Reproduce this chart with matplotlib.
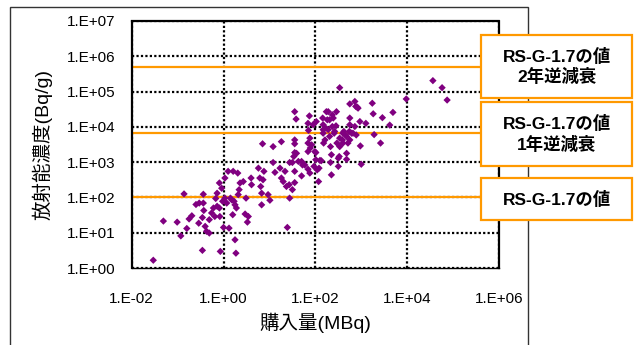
import matplotlib
matplotlib.use("Agg")
import matplotlib.pyplot as plt
from matplotlib.patches import Rectangle
from matplotlib.ticker import FixedLocator, NullLocator
import numpy as np

# log10 of purchased activity (MBq) and log10 of concentration (Bq/g)
log_mbq = [
    -1.53, -1.31, -1.01, -0.93, -0.86, -0.80, -0.75, -0.69, -0.54, -0.53,
    -0.44, -0.44, -0.43, -0.46, -0.40, -0.37, -0.31, -0.46, -0.31, -0.26,
    -0.22, -0.19, -0.17, -0.14, -0.09, -0.04, -0.02, -0.09, -0.14, -0.08,
    -0.07, 0.00, 0.03, 0.10, 0.03, 0.07, 0.12, 0.15, 0.23, 0.25,
    0.28, 0.20, 0.25, 0.27, 0.21, 0.31, 0.34, 0.36, 0.43, 0.49,
    0.47, 0.54, 0.52, 0.60, 0.61, 0.76, 0.79, 0.81, 0.83, 0.88,
    0.85, 0.86, 0.83, 0.97, 1.01, 1.08, 1.08, 1.12, 1.23, 1.26,
    1.26, 1.30, 1.34, 1.37, 1.39, 1.43, 1.44, 1.44, 1.50, 1.50,
    1.55, 1.53, 1.55, 1.55, 1.55, 1.58, 1.55, 1.55, 1.59, 1.63,
    1.70, 1.72, 1.77, 1.70, 1.84, 1.88, 1.84, 1.85, 1.84, 1.87,
    1.84, 1.88, 1.92, 1.95, 2.01, 2.01, 2.02, 2.04, 2.07, 2.08,
    2.10, 2.16, 2.17, 2.17, 2.17, 2.18, 2.21, 2.23, 2.28, 2.26,
    2.28, 2.31, 2.31, 2.33, 2.33, 2.35, 2.35, 2.37, 2.37, 2.42,
    2.41, 2.45, 2.46, 2.47, 2.50, 2.50, 2.52, 2.53, 2.53, 2.53,
    2.59, 2.60, 2.60, 2.62, 2.66, 2.68, 2.68, 2.68, 2.71, 2.74,
    2.75, 2.75, 2.75, 2.75, 2.79, 2.82, 2.86, 2.86, 2.88, 2.89,
    2.93, 2.97, 2.98, 3.00, 3.10, 3.24, 3.26, 3.28, 3.42, 3.46,
    3.62, 3.69, 3.98, 4.56, 4.76, 4.87,
    0.18, 0.32, 1.89, 1.97, 1.99, 2.13, 2.24, 2.39, -0.60, 2.91,
]
log_bqg = [
    0.22, 1.33, 1.30, 0.91, 2.10, 1.12, 1.39, 1.48, 1.27, 1.84,
    2.09, 1.84, 1.63, 1.43, 1.18, 1.04, 0.99, 0.50, 1.37, 1.56,
    1.70, 1.46, 1.97, 2.12, 2.41, 2.26, 1.89, 1.70, 1.75, 1.46,
    0.47, 1.15, 2.55, 2.74, 1.98, 1.84, 1.13, 1.98, 1.89, 1.79,
    1.70, 1.51, 0.80, 0.42, 2.74, 2.69, 2.22, 2.41, 2.45, 1.98,
    1.53, 1.46, 1.30, 2.55, 2.36, 2.83, 2.55, 2.31, 1.79, 2.74,
    3.52, 2.50, 2.12, 2.08, 1.92, 3.44, 2.99, 2.71, 2.83, 3.58,
    2.55, 2.45, 2.74, 2.31, 1.15, 2.36, 1.98, 2.99, 2.99, 2.22,
    2.74, 3.16, 3.52, 3.63, 3.27, 4.22, 4.43, 2.42, 3.25, 3.02,
    3.02, 2.92, 2.92, 2.61, 2.80, 2.69, 3.54, 3.90, 3.30, 4.31,
    4.10, 3.68, 3.49, 4.06, 3.27, 3.07, 4.15, 2.78, 2.45, 2.83,
    3.05, 4.25, 4.06, 3.92, 3.82, 3.54, 3.63, 3.96, 4.43, 4.20,
    3.92, 4.20, 3.73, 3.44, 2.99, 3.21, 2.64, 4.34, 4.01, 3.87,
    3.82, 4.03, 4.43, 3.54, 3.11, 2.88, 3.16, 5.11, 3.44, 3.68,
    3.63, 3.82, 3.54, 3.87, 3.77, 3.73, 3.25, 3.08, 3.54, 3.87,
    4.65, 4.25, 4.06, 3.63, 3.82, 3.82, 4.72, 4.01, 4.58, 3.77,
    4.53, 4.15, 3.46, 2.94, 4.10, 4.67, 4.37, 3.78, 3.54, 4.26,
    4.05, 4.41, 4.79, 5.31, 5.11, 4.76,
    1.93, 2.08, 3.40, 2.88, 3.30, 3.04, 4.43, 4.25, 1.80, 4.56,
]

# RS-G-1.7 reference levels (Bq/g) and their box labels
ref_levels = [5.1e5, 6.6e3, 1.0e2]
ref_labels = ["RS-G-1.7の値\n2年逆減衰", "RS-G-1.7の値\n1年逆減衰", "RS-G-1.7の値"]

x_ticks = [1e-2, 1e0, 1e2, 1e4, 1e6]
x_ticklabels = ["1.E-02", "1.E+00", "1.E+02", "1.E+04", "1.E+06"]
y_ticks = [1e0, 1e1, 1e2, 1e3, 1e4, 1e5, 1e6, 1e7]
y_ticklabels = ["1.E+00", "1.E+01", "1.E+02", "1.E+03", "1.E+04", "1.E+05", "1.E+06", "1.E+07"]

FONT = ["Liberation Sans", "Noto Sans CJK JP"]
ORANGE = "#FF9900"
W, H = 637, 345

fig = plt.figure(figsize=(W / 100, H / 100), dpi=100)

# chart area frame (bottom edge falls outside the image)
fig.patches.append(Rectangle((10 / W, -0.2), 518 / W, 1.2 - 7 / H, transform=fig.transFigure,
                             fill=False, edgecolor="#333333", linewidth=1.0, zorder=0.5))

ax = fig.add_axes([131.7 / W, 1 - 268 / H, (499 - 131.7) / W, (268 - 21) / H])
ax.set_xscale("log")
ax.set_yscale("log")
ax.set_xlim(1e-2, 1e6)
ax.set_ylim(1e0, 1e7)

ax.xaxis.set_major_locator(FixedLocator(x_ticks))
ax.yaxis.set_major_locator(FixedLocator(y_ticks))
ax.xaxis.set_minor_locator(NullLocator())
ax.yaxis.set_minor_locator(NullLocator())
ax.set_xticklabels(x_ticklabels, family=FONT, fontsize=11)
ax.set_yticklabels(y_ticklabels, family=FONT, fontsize=11)
ax.tick_params(axis="both", length=0)
ax.tick_params(axis="x", pad=17)
ax.tick_params(axis="y", pad=12)

ax.grid(True, color="black", linestyle=(0, (1, 1)), linewidth=1.6)
ax.set_axisbelow(True)
for side in ["left", "top", "right"]:
    ax.spines[side].set_linestyle((0, (1, 1)))
    ax.spines[side].set_linewidth(1.6)
ax.spines["bottom"].set_linewidth(1.0)

for lvl in ref_levels:
    ax.axhline(lvl, color=ORANGE, linewidth=1.6, zorder=2)

ax.scatter(np.power(10.0, log_mbq), np.power(10.0, log_bqg), marker="D", s=14,
           color="#800080", edgecolors="none", zorder=3)

ax.set_xlabel("購入量(MBq)", family=FONT, fontsize=14, labelpad=5)
ax.set_ylabel("放射能濃度(Bq/g)", family=FONT, fontsize=14, labelpad=10)

# label boxes on the right (pixel extents from top)
boxes = [(35, 98), (102, 166), (178, 220)]
for (top, bot), label in zip(boxes, ref_labels):
    x0, x1 = 481, 632
    fig.patches.append(Rectangle((x0 / W, 1 - bot / H), (x1 - x0) / W, (bot - top) / H,
                                 transform=fig.transFigure, facecolor="white",
                                 edgecolor=ORANGE, linewidth=1.6, zorder=4))
    fig.text((x0 + x1) / 2 / W, 1 - (top + bot) / 2 / H, label, ha="center", va="center",
             family=FONT, fontsize=12.5, fontweight="bold", linespacing=1.25, zorder=5)

fig.savefig("out.png", dpi=100)
